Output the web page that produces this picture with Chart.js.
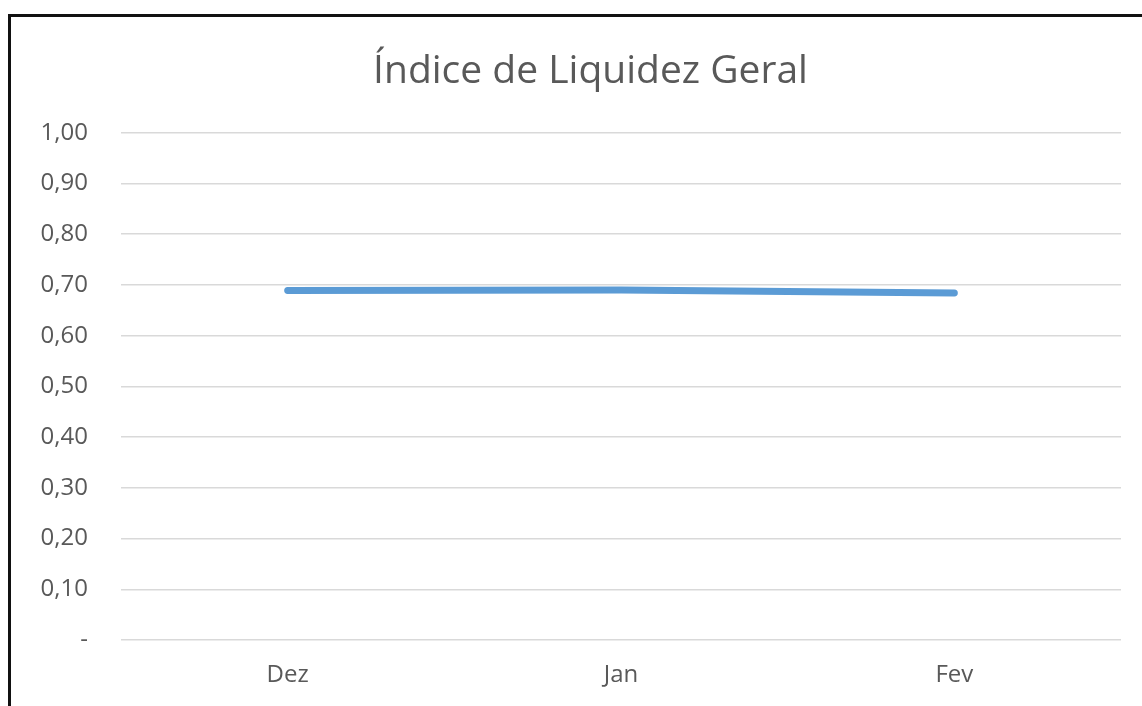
<!DOCTYPE html>
<html>
<head>
<meta charset="utf-8">
<script src="https://cdn.jsdelivr.net/npm/chart.js@4"></script>
<style>
  html, body { margin: 0; padding: 0; background: #fff; }
  body { width: 1142px; height: 706px; position: relative; overflow: hidden; }
  #frame {
    position: absolute; left: 8px; top: 14px; width: 1200px; height: 800px;
    border-left: 3px solid #111; border-top: 3px solid #111;
  }
  #wrap { position: absolute; left: 0; top: 0; width: 1142px; height: 706px; }
</style>
</head>
<body>
<div id="frame"></div>
<div id="wrap"><canvas id="liquidez" width="1142" height="706"></canvas></div>
<script>
const months = ["Dez", "Jan", "Fev"];
const liquidezGeral = [0.689, 0.690, 0.684];
const yMin = 0;
const yMax = 1;
const yStep = 0.1;

const textColor = "#595959";
const gridColor = "#d9d9d9";
const fontFamily = "'Open Sans', 'Noto Sans', sans-serif";

// the original chart frame runs past the right edge, so its title sits right of centre
const shiftTitle = {
  id: "shiftTitle",
  afterLayout(chart) {
    if (chart.titleBlock) {
      chart.titleBlock.left += 30;
      chart.titleBlock.right += 30;
    }
  },
};

const ctx = document.getElementById("liquidez").getContext("2d");

new Chart(ctx, {
  type: "line",
  data: {
    labels: months,
    datasets: [
      {
        label: "Índice de Liquidez Geral",
        data: liquidezGeral,
        borderColor: "#5b9bd5",
        backgroundColor: "#5b9bd5",
        borderWidth: 7,
        borderCapStyle: "round",
        pointRadius: 0,
        tension: 0,
      },
    ],
  },
  plugins: [shiftTitle],
  options: {
    responsive: false,
    animation: false,
    layout: { padding: { top: 0, right: 21, bottom: 0, left: 0 } },
    plugins: {
      legend: { display: false },
      tooltip: { enabled: false },
      title: {
        display: true,
        text: "Índice de Liquidez Geral",
        color: textColor,
        font: { family: fontFamily, size: 39, weight: "normal" },
        padding: { top: 48, bottom: 38 },
      },
    },
    scales: {
      x: {
        offset: true,
        grid: { display: false, drawTicks: false },
        border: { display: false },
        ticks: {
          color: textColor,
          padding: 21,
          font: { family: fontFamily, size: 24 },
        },
        afterFit: (scale) => { scale.height = 66; },
      },
      y: {
        min: yMin,
        max: yMax,
        grid: { color: gridColor, lineWidth: 1.5, drawTicks: false },
        border: { display: false },
        ticks: {
          stepSize: yStep,
          color: textColor,
          padding: 33,
          font: { family: fontFamily, size: 24 },
          callback: (v) => (Math.abs(v) < 1e-9 ? "-" : v.toFixed(2).replace(".", ",")),
        },
        afterFit: (scale) => { scale.width = 121; },
      },
    },
  },
});
</script>
</body>
</html>
